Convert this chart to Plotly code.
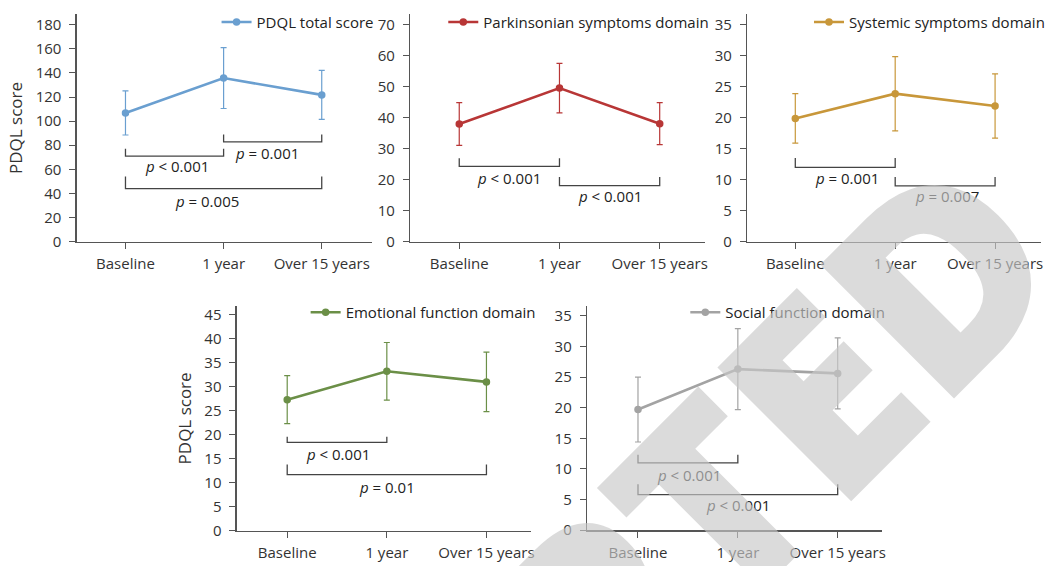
import plotly.graph_objects as go

categories = ["Baseline", "1 year", "Over 15 years"]
panel_names = ["PDQL total score", "Parkinsonian symptoms domain", "Systemic symptoms domain",
               "Emotional function domain", "Social function domain"]

total_mean = [106.8, 135.8, 121.8]
total_sd = [18.3, 25.3, 20.4]
park_mean = [38.0, 49.6, 38.1]
park_sd = [6.9, 8.0, 6.8]
sys_mean = [19.9, 23.9, 21.9]
sys_sd = [4.0, 6.0, 5.2]
emo_mean = [27.3, 33.2, 31.0]
emo_sd = [5.0, 6.0, 6.2]
soc_mean = [19.7, 26.3, 25.6]
soc_sd = [5.3, 6.6, 5.8]

means = [total_mean, park_mean, sys_mean, emo_mean, soc_mean]
sds = [total_sd, park_sd, sys_sd, emo_sd, soc_sd]

# significance brackets
bracket_panel = [0, 0, 0, 1, 1, 2, 2, 3, 3, 4, 4]
bracket_start = [0, 1, 0, 0, 1, 0, 1, 0, 0, 0, 0]
bracket_end = [1, 2, 2, 1, 2, 1, 2, 1, 2, 1, 2]
bracket_text = ["p < 0.001", "p = 0.001", "p = 0.005", "p < 0.001", "p < 0.001",
                "p = 0.001", "p = 0.007", "p < 0.001", "p = 0.01", "p < 0.001", "p < 0.001"]

watermark_text = "ACCEPTED"

# ---- styling / layout ----
FW, FH = 1052, 566


def sx(px):
    return px / FW


def sy(py):
    return 1 - py / FH


colors = ["#6a9fd0", "#b83636", "#c8973a", "#6b8f47", "#a3a3a3"]
y_max = [188.6, 73.4, 36.7, 46.8, 36.6]
y_dtick = [20, 10, 5, 5, 5]
x_ranges = [[-0.497, 2.508], [-0.49, 2.448], [-0.482, 2.46], [-0.506, 2.45], [-0.51, 2.44]]
px_x = [(77, 373), (411.7, 707.3), (750, 1045), (237.7, 533.3), (589.3, 885)]
px_y = [(12.7, 244.3), (12.7, 244.3), (12.7, 244.3), (310, 539.3), (310, 538.7)]
legend_right = [373, 710, 1047, 535.7, 886.7]
legend_mid = [20.7, 20.7, 20.7, 316.7, 316.7]
bracket_line_y = [71, 82.8, 44, 24.3, 18.1, 12.0, 9.0, 18.4, 11.7, 11.0, 5.8]
bracket_tip_y = [77, 89, 54, 26.9, 20.9, 13.5, 10.45, 19.6, 13.8, 12.3, 7.5]
label_x = [0.53, 1.44, 0.83, 0.50, 1.50, 0.52, 1.52, 0.51, 1.0, 0.51, 1.0]
label_y = [62.5, 73.5, 34, 20.7, 14.8, 10.3, 7.3, 16.05, 9.2, 9.0, 4.06]

FONT = "Open Sans"
FS = 15
TXT = "#333333"
AX = "#555555"

fig = go.Figure()
xs = list(range(len(categories)))

for i in range(5):
    sfx = "" if i == 0 else str(i + 1)
    fig.add_trace(go.Scatter(
        x=xs, y=means[i], mode="lines+markers", name=panel_names[i],
        line=dict(color=colors[i], width=2.6),
        marker=dict(color=colors[i], size=7.5),
        error_y=dict(type="data", array=sds[i], visible=True, color=colors[i], thickness=1.2, width=3),
        xaxis="x" + sfx, yaxis="y" + sfx, legend="legend" + sfx, showlegend=True,
        hoverinfo="skip",
    ))
    x0, x1 = px_x[i]
    y0, y1 = px_y[i]
    fig.layout["xaxis" + sfx] = dict(
        domain=[sx(x0), sx(x1)], range=x_ranges[i], anchor="y" + sfx,
        tickmode="array", tickvals=xs, ticktext=categories,
        showline=True, linecolor=AX, linewidth=1.3, ticks="outside", ticklen=6, tickcolor=AX,
        ticklabelstandoff=2,
        showgrid=False, zeroline=False, tickfont=dict(family=FONT, size=FS, color=TXT), fixedrange=True,
    )
    yax = dict(
        domain=[sy(y1), sy(y0)], range=[0, y_max[i]], anchor="x" + sfx,
        dtick=y_dtick[i], tick0=0,
        showline=True, linecolor=AX, linewidth=1.3, ticks="outside", ticklen=6, tickcolor=AX,
        ticklabelstandoff=5, fixedrange=True,
        showgrid=False, zeroline=False, tickfont=dict(family=FONT, size=FS, color=TXT),
    )
    if i in (0, 3):
        yax["title"] = dict(text="PDQL score", font=dict(family=FONT, size=17, color=TXT), standoff=8)
    fig.layout["yaxis" + sfx] = yax
    fig.layout["legend" + sfx] = dict(
        x=sx(legend_right[i] + 7), xanchor="right", y=sy(legend_mid[i]), yanchor="middle",
        bgcolor="rgba(0,0,0,0)", borderwidth=0, itemwidth=30,
        font=dict(family=FONT, size=FS, color="#222222"),
    )

shapes = []
annotations = []
for k in range(len(bracket_panel)):
    p = bracket_panel[k]
    sfx = "" if p == 0 else str(p + 1)
    xa, xb = xs[bracket_start[k]], xs[bracket_end[k]]
    yl, yt = bracket_line_y[k], bracket_tip_y[k]
    path = f"M {xa},{yt} L {xa},{yl} L {xb},{yl} L {xb},{yt}"
    shapes.append(dict(type="path", path=path, xref="x" + sfx, yref="y" + sfx,
                       line=dict(color="#444444", width=1.3)))
    txt = bracket_text[k].replace("p", "<i>p</i>", 1).replace(" < ", " &lt; ")
    annotations.append(dict(text=txt, x=label_x[k], y=label_y[k], xref="x" + sfx, yref="y" + sfx,
                            showarrow=False, font=dict(family=FONT, size=FS, color="#222222"),
                            xanchor="center", yanchor="middle"))

# watermark (semi-transparent, drawn on top)
annotations.append(dict(text=watermark_text, x=sx(531), y=sy(690), xref="paper", yref="paper",
                        showarrow=False, textangle=-45,
                        font=dict(family=FONT, size=265, color="rgba(200,200,200,0.65)", weight=800),
                        xanchor="center", yanchor="middle"))

fig.update_layout(
    width=FW, height=FH, margin=dict(l=0, r=0, t=0, b=0),
    paper_bgcolor="white", plot_bgcolor="white",
    shapes=shapes, annotations=annotations,
    font=dict(family=FONT, color=TXT), hovermode=False,
)

fig.write_html("out.html", config={"displayModeBar": False, "staticPlot": True},
               post_script="document.body.style.margin='0';document.documentElement.style.overflow='hidden';")
